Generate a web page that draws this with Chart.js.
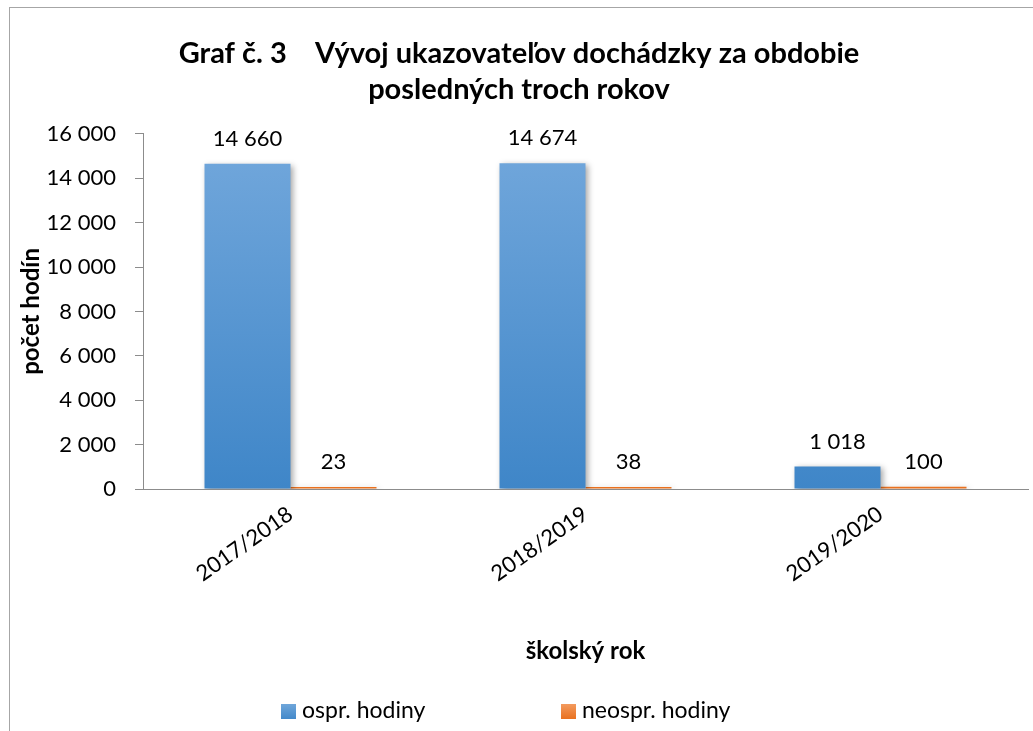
<!DOCTYPE html>
<html>
<head>
<meta charset="utf-8">
<script src="https://cdn.jsdelivr.net/npm/chart.js@4/dist/chart.umd.min.js"></script>
<style>
html,body{margin:0;padding:0;background:#fff;width:1033px;height:731px;overflow:hidden;}
#wrap{position:absolute;left:9px;top:7px;width:1024px;height:724px;border-left:1px solid #a6a6a6;border-top:1px solid #a6a6a6;box-sizing:border-box;}
canvas{display:block;}
</style>
</head>
<body>
<div id="wrap"><canvas id="c" width="1023" height="723"></canvas></div>
<script>
const categories = ['2017/2018', '2018/2019', '2019/2020'];
const osprHodiny = [14660, 14674, 1018];
const neosprHodiny = [23, 38, 100];
const seriesNames = ['ospr. hodiny', 'neospr. hodiny'];
const yTicks = [0, 2000, 4000, 6000, 8000, 10000, 12000, 14000, 16000];

const FONT = 'Lato, "Open Sans", sans-serif';
function fmt(v){ return String(v).replace(/\B(?=(\d{3})+(?!\d))/g, ' '); }

function grad(ctx, chart, top, bottom){
  const area = chart.chartArea;
  if (!area) return top;
  const g = ctx.createLinearGradient(0, area.top, 0, area.bottom);
  g.addColorStop(0, top);
  g.addColorStop(1, bottom);
  return g;
}

const shadowPlugin = {
  id: 'barShadow',
  beforeDatasetsDraw(chart){
    const c = chart.ctx;
    c.save();
    c.shadowColor = 'rgba(0,0,0,0.35)';
    c.shadowBlur = 6;
    c.shadowOffsetX = 2;
    c.shadowOffsetY = 2;
  },
  afterDatasetsDraw(chart){
    chart.ctx.restore();
  }
};

const labelPlugin = {
  id: 'valLabels',
  afterDatasetsDraw(chart){
    const c = chart.ctx;
    c.save();
    c.font = '22px ' + FONT;
    c.fillStyle = '#000';
    c.textAlign = 'center';
    c.textBaseline = 'middle';
    chart.data.datasets.forEach((ds, i) => {
      const meta = chart.getDatasetMeta(i);
      meta.data.forEach((bar, j) => {
        c.fillText(fmt(ds.data[j]), bar.x, bar.y - 25);
      });
    });
    c.restore();
  }
};

const legendPlugin = {
  id: 'customLegend',
  afterDraw(chart){
    const c = chart.ctx;
    c.save();
    c.font = '23px ' + FONT;
    c.textBaseline = 'middle';
    c.textAlign = 'left';
    const y = 703;
    const xs = [271, 551];
    const cols = [['#6fa6da','#4389ca'], ['#f39a5e','#e9711f']];
    chart.data.datasets.forEach((ds, i) => {
      const g = c.createLinearGradient(0, y - 7, 0, y + 8);
      g.addColorStop(0, cols[i][0]); g.addColorStop(1, cols[i][1]);
      c.fillStyle = g;
      c.fillRect(xs[i], y - 7, 15, 15);
      c.fillStyle = '#000';
      c.fillText(ds.label, xs[i] + 21, y);
    });
    c.restore();
  }
};

new Chart(document.getElementById('c'), {
  type: 'bar',
  data: {
    labels: categories,
    datasets: [
      {
        label: seriesNames[0],
        data: osprHodiny,
        backgroundColor: (ctx) => grad(ctx.chart.ctx, ctx.chart, '#73a8dc', '#3f86c8'),
        categoryPercentage: 0.583,
        barPercentage: 1.0
      },
      {
        label: seriesNames[1],
        data: neosprHodiny,
        backgroundColor: (ctx) => grad(ctx.chart.ctx, ctx.chart, '#f39a5e', '#e9711f'),
        categoryPercentage: 0.583,
        barPercentage: 1.0,
        minBarLength: 2
      }
    ]
  },
  options: {
    responsive: false,
    animation: false,
    layout: { padding: { left: 0, right: 5, top: 0, bottom: 52 } },
    plugins: {
      legend: { display: false },
      tooltip: { enabled: false },
      title: {
        display: true,
        text: ['Graf č. 3    Vývoj ukazovateľov dochádzky za obdobie', 'posledných troch rokov'],
        color: '#000',
        font: { family: FONT, size: 29, weight: 'bold', lineHeight: 1.24 },
        padding: { top: 28, bottom: 26 }
      }
    },
    scales: {
      x: {
        grid: { display: false, drawTicks: false },
        border: { display: true, color: '#8c8c8c', width: 1 },
        ticks: {
          color: '#000',
          font: { family: FONT, size: 22 },
          minRotation: 35,
          maxRotation: 35,
          padding: 12
        },
        title: {
          display: true,
          text: 'školský rok',
          color: '#000',
          font: { family: FONT, size: 24, weight: 'bold', lineHeight: 1.2 },
          padding: { top: 0, bottom: 13 }
        },
        afterFit(scale){ scale.height = 190; }
      },
      y: {
        min: 0,
        max: 16000,
        afterBuildTicks(scale){ scale.ticks = yTicks.map(v => ({ value: v })); },
        grid: { display: true, drawOnChartArea: false, drawTicks: true, tickLength: 8, color: '#8c8c8c' },
        border: { display: true, color: '#8c8c8c', width: 1 },
        ticks: {
          color: '#000',
          font: { family: FONT, size: 22 },
          padding: 19,
          callback: (v) => fmt(v)
        },
        title: {
          display: true,
          text: 'počet hodín',
          color: '#000',
          font: { family: FONT, size: 24, weight: 'bold', lineHeight: 1.2 },
          padding: { top: 7, bottom: 0 }
        },
        afterFit(scale){ scale.width = 133; }
      }
    }
  },
  plugins: [shadowPlugin, labelPlugin, legendPlugin]
});
</script>
</body>
</html>
